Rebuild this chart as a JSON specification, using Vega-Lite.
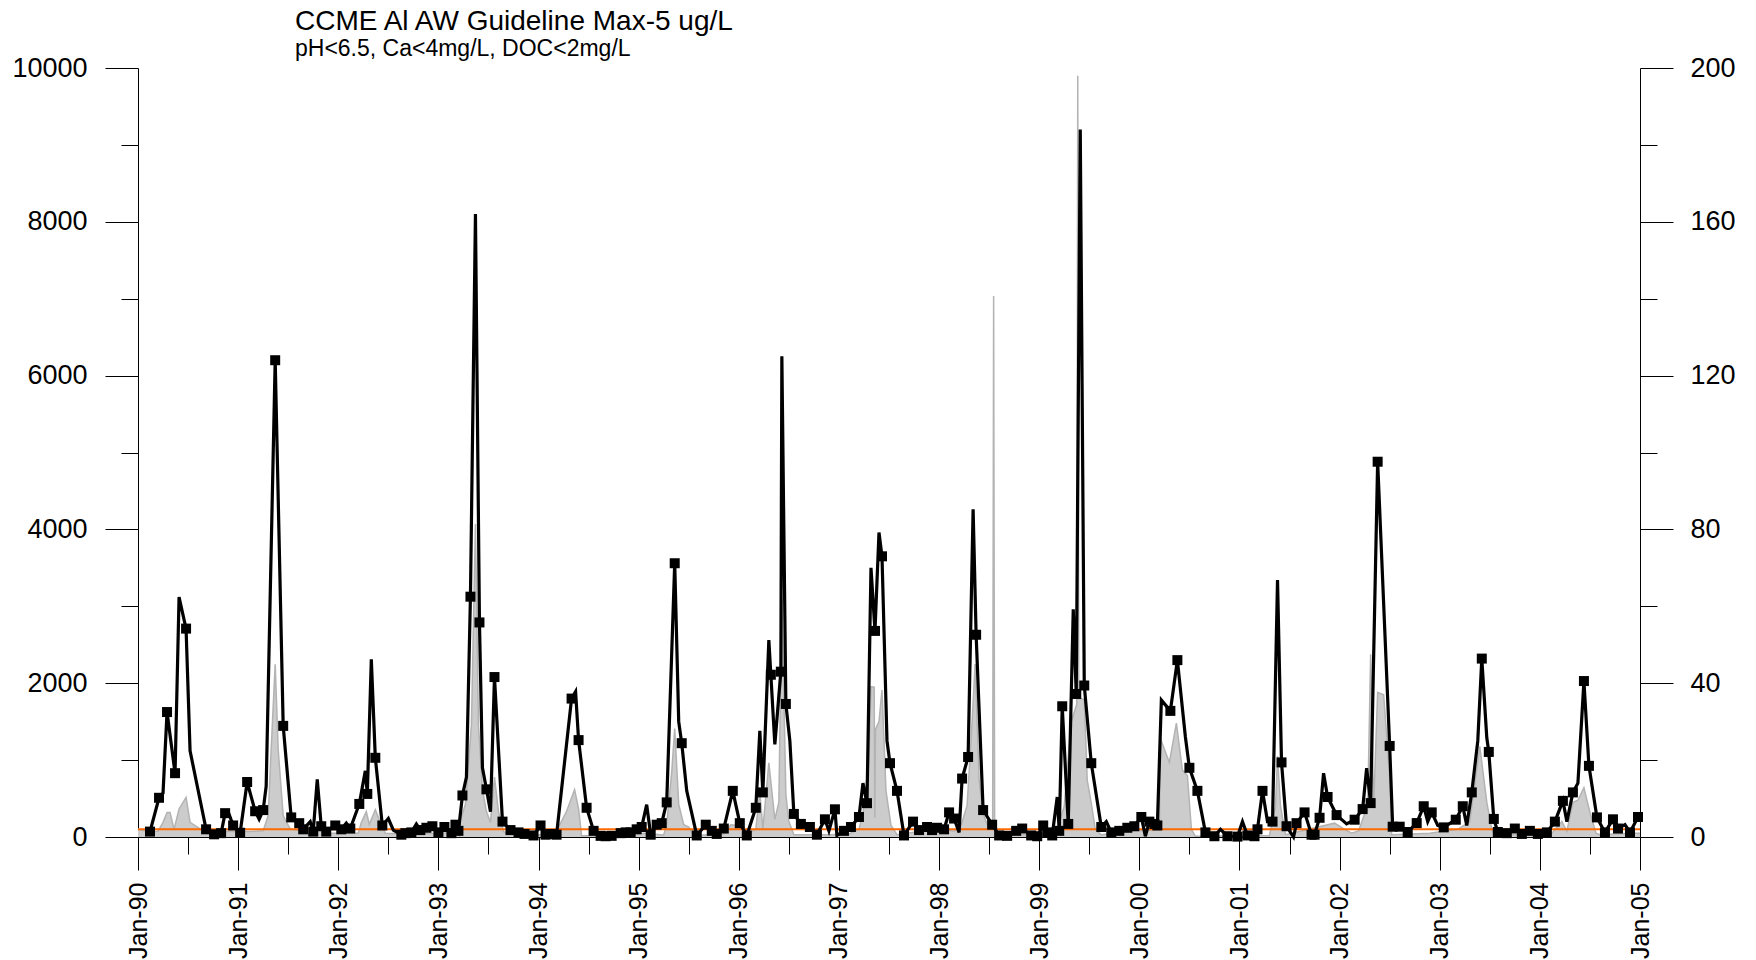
{
  "$schema": "https://vega.github.io/schema/vega-lite/v6.json",
  "width": 1502,
  "height": 769,
  "autosize": {"type": "none"},
  "padding": {"left": 138, "top": 68, "right": 116, "bottom": 123},
  "background": "white",
  "config": {"view": {"stroke": null}, "font": "Liberation Sans"},
  "title": {
    "text": "CCME Al AW Guideline Max-5 ug/L",
    "subtitle": "pH<6.5, Ca<4mg/L, DOC<2mg/L",
    "anchor": "start",
    "frame": "group",
    "dx": 157,
    "offset": -7,
    "font": "Liberation Sans",
    "subtitleFont": "Liberation Sans",
    "fontSize": 28,
    "subtitleFontSize": 23,
    "fontWeight": "normal",
    "color": "black",
    "subtitleColor": "black",
    "subtitlePadding": 2
  },
  "datasets": {
    "black": [
      {"t": 1990.12, "v": 70, "m": 1}, {"t": 1990.21, "v": 510, "m": 1}, {"t": 1990.25, "v": 570, "m": 0},
      {"t": 1990.29, "v": 1625, "m": 1}, {"t": 1990.37, "v": 830, "m": 1}, {"t": 1990.41, "v": 3120, "m": 0},
      {"t": 1990.48, "v": 2710, "m": 1}, {"t": 1990.52, "v": 1120, "m": 0}, {"t": 1990.68, "v": 100, "m": 1},
      {"t": 1990.76, "v": 35, "m": 1}, {"t": 1990.83, "v": 50, "m": 1}, {"t": 1990.87, "v": 310, "m": 1},
      {"t": 1990.9, "v": 330, "m": 0}, {"t": 1990.95, "v": 150, "m": 1}, {"t": 1991.02, "v": 55, "m": 1},
      {"t": 1991.09, "v": 715, "m": 1}, {"t": 1991.17, "v": 335, "m": 1}, {"t": 1991.21, "v": 230, "m": 0},
      {"t": 1991.25, "v": 350, "m": 1}, {"t": 1991.28, "v": 660, "m": 0}, {"t": 1991.37, "v": 6200, "m": 1},
      {"t": 1991.45, "v": 1445, "m": 1}, {"t": 1991.53, "v": 255, "m": 1}, {"t": 1991.61, "v": 180, "m": 1},
      {"t": 1991.65, "v": 100, "m": 1}, {"t": 1991.72, "v": 200, "m": 0}, {"t": 1991.75, "v": 70, "m": 1},
      {"t": 1991.79, "v": 750, "m": 0}, {"t": 1991.83, "v": 140, "m": 1}, {"t": 1991.88, "v": 70, "m": 1},
      {"t": 1991.97, "v": 150, "m": 1}, {"t": 1992.03, "v": 100, "m": 1}, {"t": 1992.08, "v": 180, "m": 0},
      {"t": 1992.12, "v": 110, "m": 1}, {"t": 1992.21, "v": 430, "m": 1}, {"t": 1992.27, "v": 860, "m": 0},
      {"t": 1992.29, "v": 560, "m": 1}, {"t": 1992.33, "v": 2310, "m": 0}, {"t": 1992.37, "v": 1030, "m": 1},
      {"t": 1992.44, "v": 150, "m": 1}, {"t": 1992.5, "v": 240, "m": 0}, {"t": 1992.55, "v": 90, "m": 0},
      {"t": 1992.63, "v": 30, "m": 1}, {"t": 1992.67, "v": 50, "m": 1}, {"t": 1992.73, "v": 60, "m": 1},
      {"t": 1992.78, "v": 170, "m": 0}, {"t": 1992.82, "v": 90, "m": 1}, {"t": 1992.88, "v": 120, "m": 1},
      {"t": 1992.94, "v": 140, "m": 1}, {"t": 1993.0, "v": 60, "m": 1}, {"t": 1993.06, "v": 130, "m": 1},
      {"t": 1993.13, "v": 50, "m": 1}, {"t": 1993.17, "v": 160, "m": 1}, {"t": 1993.2, "v": 80, "m": 1},
      {"t": 1993.24, "v": 540, "m": 1}, {"t": 1993.28, "v": 780, "m": 0}, {"t": 1993.32, "v": 3125, "m": 1},
      {"t": 1993.37, "v": 8100, "m": 0}, {"t": 1993.41, "v": 2790, "m": 1}, {"t": 1993.44, "v": 900, "m": 0},
      {"t": 1993.48, "v": 620, "m": 1}, {"t": 1993.52, "v": 330, "m": 0}, {"t": 1993.56, "v": 2080, "m": 1},
      {"t": 1993.64, "v": 200, "m": 1}, {"t": 1993.72, "v": 90, "m": 1}, {"t": 1993.8, "v": 60, "m": 1},
      {"t": 1993.86, "v": 40, "m": 1}, {"t": 1993.95, "v": 20, "m": 1}, {"t": 1994.02, "v": 150, "m": 1},
      {"t": 1994.07, "v": 30, "m": 1}, {"t": 1994.12, "v": 40, "m": 1}, {"t": 1994.18, "v": 30, "m": 1},
      {"t": 1994.33, "v": 1800, "m": 1}, {"t": 1994.37, "v": 1890, "m": 0}, {"t": 1994.4, "v": 1260, "m": 1},
      {"t": 1994.48, "v": 380, "m": 1}, {"t": 1994.55, "v": 80, "m": 1}, {"t": 1994.62, "v": 15, "m": 1},
      {"t": 1994.67, "v": 10, "m": 1}, {"t": 1994.73, "v": 15, "m": 1}, {"t": 1994.82, "v": 50, "m": 1},
      {"t": 1994.87, "v": 60, "m": 1}, {"t": 1994.92, "v": 60, "m": 1}, {"t": 1994.98, "v": 100, "m": 1},
      {"t": 1995.03, "v": 130, "m": 1}, {"t": 1995.08, "v": 420, "m": 0}, {"t": 1995.12, "v": 30, "m": 1},
      {"t": 1995.18, "v": 160, "m": 1}, {"t": 1995.23, "v": 180, "m": 1}, {"t": 1995.28, "v": 450, "m": 1},
      {"t": 1995.36, "v": 3560, "m": 1}, {"t": 1995.4, "v": 1500, "m": 0}, {"t": 1995.43, "v": 1220, "m": 1},
      {"t": 1995.48, "v": 600, "m": 0}, {"t": 1995.58, "v": 20, "m": 1}, {"t": 1995.67, "v": 160, "m": 1},
      {"t": 1995.73, "v": 80, "m": 1}, {"t": 1995.78, "v": 40, "m": 1}, {"t": 1995.85, "v": 110, "m": 1},
      {"t": 1995.94, "v": 600, "m": 1}, {"t": 1996.01, "v": 180, "m": 1}, {"t": 1996.08, "v": 20, "m": 1},
      {"t": 1996.17, "v": 380, "m": 1}, {"t": 1996.21, "v": 1380, "m": 0}, {"t": 1996.24, "v": 580, "m": 1},
      {"t": 1996.3, "v": 2560, "m": 0}, {"t": 1996.32, "v": 2110, "m": 1}, {"t": 1996.36, "v": 1205, "m": 0},
      {"t": 1996.42, "v": 2150, "m": 1}, {"t": 1996.43, "v": 6250, "m": 0}, {"t": 1996.47, "v": 1730, "m": 1},
      {"t": 1996.51, "v": 1250, "m": 0}, {"t": 1996.55, "v": 300, "m": 1}, {"t": 1996.62, "v": 170, "m": 1},
      {"t": 1996.71, "v": 130, "m": 1}, {"t": 1996.78, "v": 30, "m": 1}, {"t": 1996.86, "v": 230, "m": 1},
      {"t": 1996.9, "v": 80, "m": 0}, {"t": 1996.96, "v": 360, "m": 1}, {"t": 1996.98, "v": 20, "m": 0},
      {"t": 1997.05, "v": 80, "m": 1}, {"t": 1997.12, "v": 130, "m": 1}, {"t": 1997.2, "v": 260, "m": 1},
      {"t": 1997.24, "v": 700, "m": 0}, {"t": 1997.28, "v": 440, "m": 1}, {"t": 1997.32, "v": 3500, "m": 0},
      {"t": 1997.36, "v": 2680, "m": 1}, {"t": 1997.4, "v": 3960, "m": 0}, {"t": 1997.43, "v": 3650, "m": 1},
      {"t": 1997.48, "v": 1250, "m": 0}, {"t": 1997.51, "v": 960, "m": 1}, {"t": 1997.58, "v": 600, "m": 1},
      {"t": 1997.65, "v": 20, "m": 1}, {"t": 1997.74, "v": 200, "m": 1}, {"t": 1997.8, "v": 90, "m": 1},
      {"t": 1997.88, "v": 130, "m": 1}, {"t": 1997.93, "v": 90, "m": 1}, {"t": 1997.98, "v": 120, "m": 1},
      {"t": 1998.05, "v": 100, "m": 1}, {"t": 1998.1, "v": 320, "m": 1}, {"t": 1998.15, "v": 240, "m": 1},
      {"t": 1998.2, "v": 60, "m": 0}, {"t": 1998.23, "v": 760, "m": 1}, {"t": 1998.29, "v": 1040, "m": 1},
      {"t": 1998.34, "v": 4260, "m": 0}, {"t": 1998.37, "v": 2630, "m": 1}, {"t": 1998.44, "v": 350, "m": 1},
      {"t": 1998.53, "v": 160, "m": 1}, {"t": 1998.6, "v": 20, "m": 1}, {"t": 1998.68, "v": 15, "m": 1},
      {"t": 1998.77, "v": 80, "m": 1}, {"t": 1998.83, "v": 110, "m": 1}, {"t": 1998.92, "v": 20, "m": 1},
      {"t": 1998.98, "v": 10, "m": 1}, {"t": 1999.04, "v": 150, "m": 1}, {"t": 1999.08, "v": 60, "m": 1},
      {"t": 1999.13, "v": 20, "m": 1}, {"t": 1999.18, "v": 520, "m": 0}, {"t": 1999.2, "v": 80, "m": 1},
      {"t": 1999.23, "v": 1700, "m": 1}, {"t": 1999.29, "v": 170, "m": 1}, {"t": 1999.34, "v": 2960, "m": 0},
      {"t": 1999.37, "v": 1860, "m": 1}, {"t": 1999.41, "v": 9200, "m": 0}, {"t": 1999.45, "v": 1970, "m": 1},
      {"t": 1999.52, "v": 960, "m": 1}, {"t": 1999.62, "v": 130, "m": 1}, {"t": 1999.67, "v": 200, "m": 0},
      {"t": 1999.72, "v": 60, "m": 1}, {"t": 1999.8, "v": 80, "m": 1}, {"t": 1999.88, "v": 120, "m": 1},
      {"t": 1999.95, "v": 140, "m": 1}, {"t": 2000.02, "v": 260, "m": 1}, {"t": 2000.06, "v": 10, "m": 0},
      {"t": 2000.1, "v": 200, "m": 1}, {"t": 2000.15, "v": 170, "m": 1}, {"t": 2000.18, "v": 150, "m": 1},
      {"t": 2000.22, "v": 1780, "m": 0}, {"t": 2000.31, "v": 1640, "m": 1}, {"t": 2000.38, "v": 2300, "m": 1},
      {"t": 2000.46, "v": 1300, "m": 0}, {"t": 2000.5, "v": 900, "m": 1}, {"t": 2000.58, "v": 600, "m": 1},
      {"t": 2000.66, "v": 60, "m": 1}, {"t": 2000.75, "v": 10, "m": 1}, {"t": 2000.81, "v": 100, "m": 0},
      {"t": 2000.88, "v": 10, "m": 1}, {"t": 2000.98, "v": 5, "m": 1}, {"t": 2001.03, "v": 200, "m": 0},
      {"t": 2001.08, "v": 20, "m": 1}, {"t": 2001.15, "v": 10, "m": 1}, {"t": 2001.18, "v": 100, "m": 1},
      {"t": 2001.23, "v": 600, "m": 1}, {"t": 2001.28, "v": 200, "m": 0}, {"t": 2001.33, "v": 200, "m": 1},
      {"t": 2001.38, "v": 3340, "m": 0}, {"t": 2001.42, "v": 970, "m": 1}, {"t": 2001.47, "v": 140, "m": 1},
      {"t": 2001.54, "v": 0, "m": 0}, {"t": 2001.57, "v": 180, "m": 1}, {"t": 2001.65, "v": 320, "m": 1},
      {"t": 2001.72, "v": 30, "m": 1}, {"t": 2001.75, "v": 30, "m": 1}, {"t": 2001.8, "v": 250, "m": 1},
      {"t": 2001.84, "v": 830, "m": 0}, {"t": 2001.88, "v": 520, "m": 1}, {"t": 2001.97, "v": 285, "m": 1},
      {"t": 2002.07, "v": 170, "m": 0}, {"t": 2002.15, "v": 225, "m": 1}, {"t": 2002.23, "v": 363, "m": 1},
      {"t": 2002.27, "v": 895, "m": 0}, {"t": 2002.31, "v": 441, "m": 1}, {"t": 2002.38, "v": 4880, "m": 1},
      {"t": 2002.5, "v": 1184, "m": 1}, {"t": 2002.53, "v": 134, "m": 1}, {"t": 2002.6, "v": 134, "m": 1},
      {"t": 2002.68, "v": 65, "m": 1}, {"t": 2002.77, "v": 181, "m": 1}, {"t": 2002.84, "v": 400, "m": 1},
      {"t": 2002.88, "v": 200, "m": 0}, {"t": 2002.92, "v": 320, "m": 1}, {"t": 2002.98, "v": 150, "m": 0},
      {"t": 2003.04, "v": 125, "m": 1}, {"t": 2003.16, "v": 225, "m": 1}, {"t": 2003.23, "v": 400, "m": 1},
      {"t": 2003.27, "v": 150, "m": 0}, {"t": 2003.32, "v": 580, "m": 1}, {"t": 2003.38, "v": 1250, "m": 0},
      {"t": 2003.42, "v": 2320, "m": 1}, {"t": 2003.47, "v": 1290, "m": 0}, {"t": 2003.49, "v": 1106, "m": 1},
      {"t": 2003.54, "v": 235, "m": 1}, {"t": 2003.58, "v": 65, "m": 1}, {"t": 2003.67, "v": 50, "m": 1},
      {"t": 2003.75, "v": 110, "m": 1}, {"t": 2003.82, "v": 40, "m": 1}, {"t": 2003.9, "v": 80, "m": 1},
      {"t": 2003.98, "v": 40, "m": 1}, {"t": 2004.07, "v": 60, "m": 1}, {"t": 2004.15, "v": 200, "m": 1},
      {"t": 2004.23, "v": 470, "m": 1}, {"t": 2004.27, "v": 200, "m": 0}, {"t": 2004.33, "v": 580, "m": 1},
      {"t": 2004.38, "v": 700, "m": 0}, {"t": 2004.44, "v": 2028, "m": 1}, {"t": 2004.49, "v": 925, "m": 1},
      {"t": 2004.57, "v": 255, "m": 1}, {"t": 2004.65, "v": 60, "m": 1}, {"t": 2004.73, "v": 230, "m": 1},
      {"t": 2004.78, "v": 110, "m": 1}, {"t": 2004.85, "v": 160, "m": 0}, {"t": 2004.9, "v": 60, "m": 1},
      {"t": 2004.98, "v": 260, "m": 1}
    ],
    "grey": [
      {"t": 1990.0, "al": 2.0}, {"t": 1990.1, "al": 1.4}, {"t": 1990.2, "al": 1.5}, {"t": 1990.25, "al": 3.8},
      {"t": 1990.29, "al": 6.4}, {"t": 1990.32, "al": 6.4}, {"t": 1990.36, "al": 2.0}, {"t": 1990.41, "al": 7.3},
      {"t": 1990.48, "al": 10.3}, {"t": 1990.52, "al": 3.8}, {"t": 1990.62, "al": 2.1}, {"t": 1990.7, "al": 1.2},
      {"t": 1990.9, "al": 1.5}, {"t": 1991.1, "al": 1.4}, {"t": 1991.25, "al": 1.6}, {"t": 1991.3, "al": 5.5},
      {"t": 1991.33, "al": 22.8}, {"t": 1991.37, "al": 44.9}, {"t": 1991.4, "al": 22.8}, {"t": 1991.45, "al": 5.5},
      {"t": 1991.52, "al": 2.1}, {"t": 1991.7, "al": 1.2}, {"t": 1991.79, "al": 2.0}, {"t": 1991.9, "al": 1.0},
      {"t": 1992.2, "al": 1.0}, {"t": 1992.23, "al": 3.8}, {"t": 1992.28, "al": 6.6}, {"t": 1992.31, "al": 3.3},
      {"t": 1992.37, "al": 7.1}, {"t": 1992.42, "al": 3.8}, {"t": 1992.47, "al": 1.0}, {"t": 1992.7, "al": 0.8},
      {"t": 1993.0, "al": 1.0}, {"t": 1993.18, "al": 1.2}, {"t": 1993.2, "al": 2.8}, {"t": 1993.27, "al": 8.5},
      {"t": 1993.33, "al": 29.2}, {"t": 1993.37, "al": 81.4}, {"t": 1993.4, "al": 29.2}, {"t": 1993.44, "al": 12.3},
      {"t": 1993.48, "al": 6.6}, {"t": 1993.52, "al": 3.8}, {"t": 1993.56, "al": 15.6}, {"t": 1993.6, "al": 6.6},
      {"t": 1993.65, "al": 1.4}, {"t": 1993.75, "al": 0.6}, {"t": 1994.15, "al": 0.6}, {"t": 1994.2, "al": 2.6},
      {"t": 1994.28, "al": 6.7}, {"t": 1994.36, "al": 12.3}, {"t": 1994.4, "al": 7.3}, {"t": 1994.43, "al": 0.3},
      {"t": 1994.7, "al": 0.3}, {"t": 1995.05, "al": 1.0}, {"t": 1995.25, "al": 0.5}, {"t": 1995.28, "al": 3.2},
      {"t": 1995.33, "al": 16.8}, {"t": 1995.36, "al": 28.2}, {"t": 1995.4, "al": 8.5}, {"t": 1995.45, "al": 3.2},
      {"t": 1995.5, "al": 2.6}, {"t": 1995.55, "al": 0.4}, {"t": 1995.85, "al": 0.8}, {"t": 1995.92, "al": 3.2},
      {"t": 1996.0, "al": 3.0}, {"t": 1996.1, "al": 1.0}, {"t": 1996.17, "al": 2.0}, {"t": 1996.21, "al": 12.0},
      {"t": 1996.24, "al": 2.0}, {"t": 1996.3, "al": 19.3}, {"t": 1996.36, "al": 4.6}, {"t": 1996.4, "al": 9.0},
      {"t": 1996.43, "al": 62.1}, {"t": 1996.47, "al": 11.0}, {"t": 1996.5, "al": 4.0}, {"t": 1996.55, "al": 0.6},
      {"t": 1996.9, "al": 0.6}, {"t": 1997.1, "al": 0.8}, {"t": 1997.2, "al": 2.0}, {"t": 1997.24, "al": 6.0},
      {"t": 1997.3, "al": 20.0}, {"t": 1997.32, "al": 39.1}, {"t": 1997.352, "al": 39.0}, {"t": 1997.358, "al": 5.0},
      {"t": 1997.365, "al": 28.0}, {"t": 1997.4, "al": 30.0}, {"t": 1997.43, "al": 38.2}, {"t": 1997.47, "al": 12.0},
      {"t": 1997.52, "al": 3.0}, {"t": 1997.58, "al": 0.6}, {"t": 1997.9, "al": 1.8}, {"t": 1998.05, "al": 2.0},
      {"t": 1998.15, "al": 1.5}, {"t": 1998.22, "al": 3.0}, {"t": 1998.28, "al": 8.2}, {"t": 1998.33, "al": 30.0},
      {"t": 1998.36, "al": 45.0}, {"t": 1998.4, "al": 15.0}, {"t": 1998.44, "al": 6.0}, {"t": 1998.5, "al": 2.0},
      {"t": 1998.535, "al": 3.0}, {"t": 1998.545, "al": 140.7}, {"t": 1998.555, "al": 3.0}, {"t": 1998.6, "al": 0.6},
      {"t": 1998.9, "al": 0.6}, {"t": 1999.1, "al": 1.0}, {"t": 1999.18, "al": 2.0}, {"t": 1999.25, "al": 8.0},
      {"t": 1999.32, "al": 30.0}, {"t": 1999.375, "al": 34.5}, {"t": 1999.385, "al": 198.0}, {"t": 1999.395, "al": 36.0},
      {"t": 1999.45, "al": 35.8}, {"t": 1999.48, "al": 14.7}, {"t": 1999.52, "al": 8.8}, {"t": 1999.56, "al": 2.0},
      {"t": 1999.62, "al": 0.6}, {"t": 1999.95, "al": 1.6}, {"t": 2000.2, "al": 1.8}, {"t": 2000.21, "al": 25.6},
      {"t": 2000.3, "al": 19.4}, {"t": 2000.37, "al": 29.6}, {"t": 2000.43, "al": 17.4}, {"t": 2000.48, "al": 16.0},
      {"t": 2000.52, "al": 2.0}, {"t": 2000.56, "al": 0.2}, {"t": 2001.3, "al": 0.4}, {"t": 2001.36, "al": 8.0},
      {"t": 2001.38, "al": 21.0}, {"t": 2001.41, "al": 8.0}, {"t": 2001.46, "al": 0.6}, {"t": 2001.95, "al": 3.6},
      {"t": 2002.05, "al": 2.0}, {"t": 2002.12, "al": 1.0}, {"t": 2002.19, "al": 1.6}, {"t": 2002.25, "al": 6.0},
      {"t": 2002.28, "al": 7.0}, {"t": 2002.31, "al": 47.5}, {"t": 2002.34, "al": 8.0}, {"t": 2002.38, "al": 37.6},
      {"t": 2002.44, "al": 37.0}, {"t": 2002.5, "al": 15.8}, {"t": 2002.52, "al": 0.6}, {"t": 2002.9, "al": 1.0},
      {"t": 2003.18, "al": 2.0}, {"t": 2003.3, "al": 4.0}, {"t": 2003.4, "al": 23.6}, {"t": 2003.47, "al": 9.0},
      {"t": 2003.52, "al": 2.0}, {"t": 2003.55, "al": 0.6}, {"t": 2003.97, "al": 0.6}, {"t": 2004.12, "al": 1.0},
      {"t": 2004.22, "al": 4.0}, {"t": 2004.27, "al": 1.5}, {"t": 2004.33, "al": 9.0}, {"t": 2004.38, "al": 9.6},
      {"t": 2004.44, "al": 12.8}, {"t": 2004.5, "al": 6.4}, {"t": 2004.56, "al": 1.0}, {"t": 2004.6, "al": 0.6},
      {"t": 2004.9, "al": 1.0}, {"t": 2005.0, "al": 1.0}
    ],
    "guide": [{"t": 1990, "v": 100}, {"t": 2005, "v": 100}]
  },
  "encoding": {
    "x": {
      "field": "t",
      "type": "quantitative",
      "scale": {"domain": [1990, 2005], "nice": false, "zero": false},
      "axis": {
        "values": [1990, 1990.5, 1991, 1991.5, 1992, 1992.5, 1993, 1993.5, 1994, 1994.5, 1995, 1995.5, 1996, 1996.5, 1997, 1997.5, 1998, 1998.5, 1999, 1999.5, 2000, 2000.5, 2001, 2001.5, 2002, 2002.5, 2003, 2003.5, 2004, 2004.5, 2005],
        "labelExpr": "datum.value % 1 === 0 ? 'Jan-' + slice('0' + (datum.value % 100), -2) : ''",
        "labelAngle": -90,
        "labelAlign": "right",
        "labelBaseline": "middle",
        "labelFont": "Liberation Sans",
        "labelFontSize": 25,
        "labelColor": "black",
        "labelPadding": 12,
        "labelOverlap": false,
        "labelFlush": false,
        "labelBound": false,
        "tickColor": "black",
        "tickSize": {"condition": {"test": "datum.value % 1 === 0", "value": 33}, "value": 17},
        "domainColor": "black",
        "grid": false,
        "title": null
      }
    }
  },
  "layer": [
    {
      "data": {"name": "grey"},
      "encoding": {
        "y": {
          "field": "al",
          "type": "quantitative",
          "scale": {"domain": [0, 200], "nice": false},
          "axis": {
            "orient": "right",
            "values": [0, 20, 40, 60, 80, 100, 120, 140, 160, 180, 200],
            "format": "d",
            "labelExpr": "datum.value % 40 === 0 ? datum.label : ''",
            "labelFont": "Liberation Sans",
            "labelFontSize": 27,
            "labelColor": "black",
            "labelPadding": 17,
            "labelOverlap": false,
            "labelFlush": false,
            "labelBound": false,
            "tickColor": "black",
            "tickSize": {"condition": {"test": "datum.value % 40 === 0", "value": 33}, "value": 17},
            "domainColor": "black",
            "grid": false,
            "title": null
          }
        }
      },
      "layer": [
        {"mark": {"type": "area", "color": "#cccccc", "opacity": 1}},
        {"mark": {"type": "line", "color": "#b3b3b3", "strokeWidth": 1.5}}
      ]
    },
    {
      "encoding": {
        "y": {
          "field": "v",
          "type": "quantitative",
          "scale": {"domain": [0, 10000], "nice": false},
          "axis": {
            "orient": "left",
            "values": [0, 1000, 2000, 3000, 4000, 5000, 6000, 7000, 8000, 9000, 10000],
            "format": "d",
            "labelExpr": "datum.value % 2000 === 0 ? datum.label : ''",
            "labelFont": "Liberation Sans",
            "labelFontSize": 27,
            "labelColor": "black",
            "labelPadding": 18,
            "labelOverlap": false,
            "labelFlush": false,
            "labelBound": false,
            "tickColor": "black",
            "tickSize": {"condition": {"test": "datum.value % 2000 === 0", "value": 33}, "value": 17},
            "domainColor": "black",
            "grid": false,
            "title": null
          }
        }
      },
      "layer": [
        {"data": {"name": "guide"}, "mark": {"type": "line", "color": "#ff6a00", "strokeWidth": 2}},
        {"data": {"name": "black"}, "mark": {"type": "line", "color": "black", "strokeWidth": 3.2}},
        {
          "data": {"name": "black"},
          "transform": [{"filter": "datum.m == 1"}],
          "mark": {"type": "square", "color": "black", "size": 100, "filled": true, "opacity": 1}
        }
      ]
    }
  ],
  "resolve": {"scale": {"y": "independent"}}
}
